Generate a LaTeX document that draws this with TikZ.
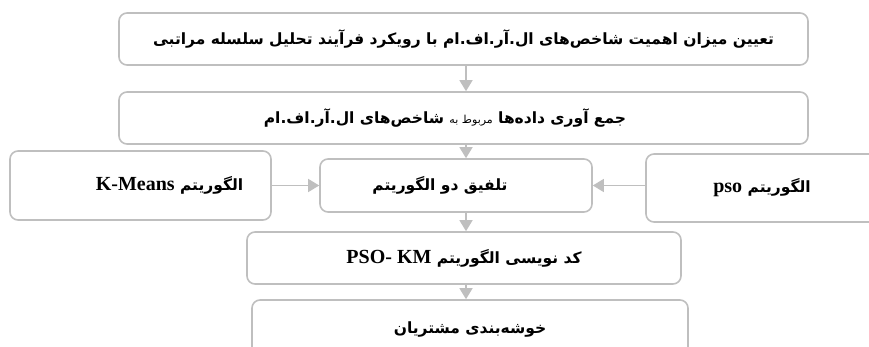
\documentclass[tikz,border=0pt]{standalone}
\usepackage{fontspec}
\usepackage{tikz}
\usetikzlibrary{positioning, arrows.meta}
\TeXXeTstate=1
\newfontfamily\fa[Script=Arabic]{DejaVu Sans}
\newfontfamily\lat{Liberation Serif}
\definecolor{boxgray}{RGB}{191,191,191}
\newcommand{\fatext}[2][15.5]{{\fontsize{#1}{#1}\fa\bfseries\beginR #2\endR}}

\begin{document}
\begin{tikzpicture}[x=1pt,y=-1pt,node distance=2cm,on grid,
   box/.style={draw=boxgray,line width=1.6pt,rounded corners=8pt,
      minimum width=#1,inner sep=0pt,text=black},
   arr/.style={draw=boxgray,line width=1.4pt,
      -{Triangle[length=11pt,width=13pt]}}]

   \clip (0,0) rectangle (869,347);

   \node[box=689pt,minimum height=52pt] (ahp) at (463.5,39)
      {\fatext{تعیین میزان اهمیت شاخص‌های ال.آر.اف.ام با رویکرد فرآیند تحلیل سلسله مراتبی}};
   \node[box=689pt,minimum height=52pt] (data) [below=79pt of ahp]
      {\fatext{جمع آوری داده‌ها {\mdseries\fontsize{11}{11}\selectfont مربوط به} شاخص‌های ال.آر.اف.ام}\hspace*{37pt}};
   \node[box=272pt,minimum height=53pt] (fuse) [below=67.5pt of data, xshift=-7.5pt]
      {\fatext{تلفیق دو الگوریتم}\hspace*{32pt}};
   \node[box=261pt,minimum height=69pt] (km) [left=315.5pt of fuse]
      {\hspace*{58pt}\fatext{الگوریتم {\lat\fontsize{20}{20}\selectfont\bfseries\beginL K-Means\endL}}};
   \node[box=234pt,minimum height=68pt] (pso) [right=307pt of fuse, yshift=-2.5pt]
      {\fatext{الگوریتم {\lat\fontsize{20}{20}\selectfont\bfseries\beginL pso\endL}}\hspace*{2pt}};
   \node[box=434pt,minimum height=52pt] (code) [below=72.5pt of fuse, xshift=8pt]
      {\fatext{کد نویسی الگوریتم {\lat\fontsize{20}{20}\selectfont\bfseries\beginL PSO- KM\endL}}};
   \node[box=436pt,minimum height=60pt] (cust) [below=72pt of code, xshift=6pt]
      {\fatext{خوشه‌بندی مشتریان}};

   \coordinate (spine) at (466,0);

   \path[arr] (ahp.south -| spine) -- (data.north -| spine);
   \path[arr] (data.south -| spine) -- (fuse.north -| spine);
   \path[arr] (fuse.south -| spine) -- (code.north -| spine);
   \path[arr] (code.south -| spine) -- (cust.north -| spine);
   \path[arr] (km.east) -- (fuse.west);
   \path[arr] (pso.west |- fuse.east) -- (fuse.east);

\end{tikzpicture}
\end{document}
